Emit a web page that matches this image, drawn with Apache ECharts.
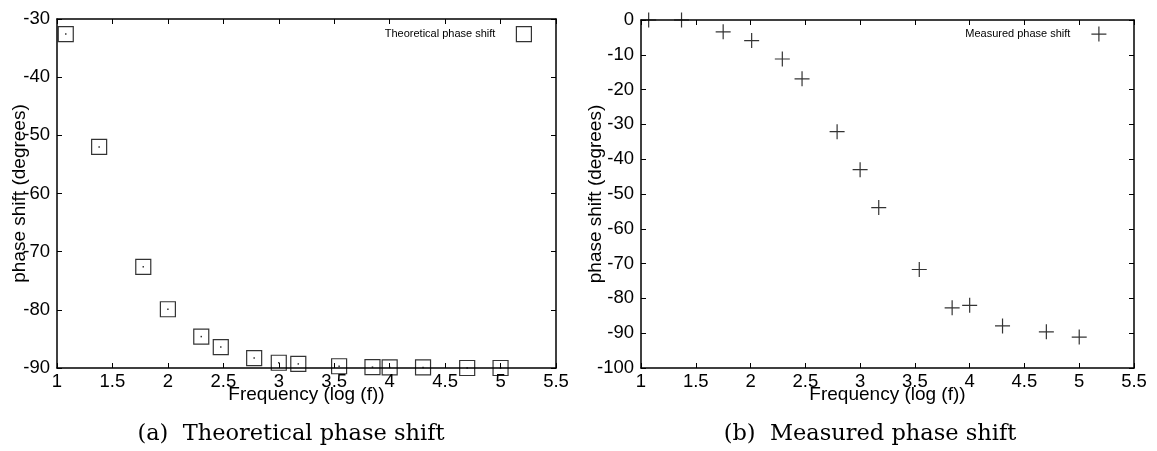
<!DOCTYPE html>
<html>
<head>
<meta charset="utf-8">
<script src="https://cdn.jsdelivr.net/npm/echarts@6/dist/echarts.min.js"></script>
<style>html,body{margin:0;padding:0;background:#fff;}#c{width:1157px;height:451px;}</style>
</head>
<body>
<div id="c"></div>
<script>
// Frequency values (log10 f), shared by both panels
const freqLogTheo = [1.079, 1.38, 1.778, 2.0, 2.301, 2.477, 2.778, 3.0, 3.176, 3.544, 3.845, 4.0, 4.301, 4.699, 5.0];
const phaseTheo   = [-32.6, -52.0, -72.6, -79.9, -84.6, -86.4, -88.3, -89.1, -89.3, -89.7, -89.85, -89.9, -89.9, -90.0, -90.0];
const freqLogMeas = [1.07, 1.37, 1.75, 2.01, 2.29, 2.47, 2.79, 3.0, 3.17, 3.54, 3.84, 4.0, 4.3, 4.7, 5.0];
const phaseMeas   = [0, 0, -3.4, -5.9, -11.2, -16.9, -32.1, -43.0, -53.9, -71.7, -82.7, -82.0, -87.9, -89.6, -91.1];
const xTicks = {min: 1, max: 5.5, interval: 0.5};
const yTicksTheo = {min: -90, max: -30, interval: 10};
const yTicksMeas = {min: -100, max: 0, interval: 10};
const seriesNames = ['Theoretical phase shift', 'Measured phase shift'];
const captions = ['(a)  Theoretical phase shift', '(b)  Measured phase shift'];
const xName = 'Frequency (log (f))';
const yName = 'phase shift (degrees)';

const pairs = (xs, ys) => xs.map((x, i) => [x, ys[i]]);
const sans = 'Liberation Sans';
const lineStyle = {color: '#000', width: 1.5};

function mainX(gi) {
  return {
    type: 'value', gridIndex: gi, min: xTicks.min, max: xTicks.max, interval: xTicks.interval,
    name: xName, nameLocation: 'middle', nameGap: 17, nameMoveOverlap: false,
    nameTextStyle: {fontFamily: sans, fontSize: 19, color: '#000'},
    axisLine: {show: true, onZero: false, lineStyle},
    axisTick: {show: true, inside: true, length: 5, lineStyle: {color: '#000', width: 1}},
    axisLabel: {fontFamily: sans, fontSize: 18.5, color: '#000', margin: 4},
    splitLine: {show: false}
  };
}
function mirrorX(gi) {
  return {
    type: 'value', gridIndex: gi, position: 'top', min: xTicks.min, max: xTicks.max, interval: xTicks.interval,
    axisLine: {show: true, onZero: false, lineStyle},
    axisTick: {show: true, inside: true, length: 5, lineStyle: {color: '#000', width: 1}},
    axisLabel: {show: false}, splitLine: {show: false}
  };
}
function mainY(gi, t, gap) {
  return {
    type: 'value', gridIndex: gi, min: t.min, max: t.max, interval: t.interval,
    name: yName, nameLocation: 'middle', nameGap: gap, nameRotate: 90, nameMoveOverlap: false,
    nameTextStyle: {fontFamily: sans, fontSize: 19, color: '#000'},
    axisLine: {show: true, onZero: false, lineStyle},
    axisTick: {show: true, inside: true, length: 5, lineStyle: {color: '#000', width: 1}},
    axisLabel: {fontFamily: sans, fontSize: 18.5, color: '#000', margin: 7},
    splitLine: {show: false}
  };
}
function mirrorY(gi, t) {
  return {
    type: 'value', gridIndex: gi, position: 'right', min: t.min, max: t.max, interval: t.interval,
    axisLine: {show: true, onZero: false, lineStyle},
    axisTick: {show: true, inside: true, length: 5, lineStyle: {color: '#000', width: 1}},
    axisLabel: {show: false}, splitLine: {show: false}
  };
}

const chart = echarts.init(document.getElementById('c'), null, {renderer: 'canvas'});
chart.setOption({
  animation: false,
  backgroundColor: '#fff',
  grid: [
    {left: 57, top: 19, width: 499, height: 349},
    {left: 641, top: 20, width: 493, height: 348}
  ],
  xAxis: [mainX(0), mirrorX(0), mainX(1), mirrorX(1)],
  yAxis: [mainY(0, yTicksTheo, 28), mirrorY(0, yTicksTheo), mainY(1, yTicksMeas, 36), mirrorY(1, yTicksMeas)],
  legend: [
    {data: [seriesNames[0]], right: 620, top: 21, orient: 'vertical', align: 'right',
     itemWidth: 15, itemHeight: 15, itemStyle: {borderWidth: 1.2},
     textStyle: {fontFamily: sans, fontSize: 11, color: '#000', padding: [0, 16, 0, 0]}},
    {data: [seriesNames[1]], right: 45, top: 21, orient: 'vertical', align: 'right',
     itemWidth: 15, itemHeight: 15, itemStyle: {borderWidth: 1.2},
     textStyle: {fontFamily: sans, fontSize: 11, color: '#000', padding: [0, 16, 0, 0]}}
  ],
  title: [
    {text: captions[0], left: 286, top: 418, textAlign: 'center',
     textStyle: {fontFamily: 'DejaVu Serif', fontSize: 22.5, fontWeight: 'normal', color: '#000'}},
    {text: captions[1], left: 865, top: 418, textAlign: 'center',
     textStyle: {fontFamily: 'DejaVu Serif', fontSize: 22.5, fontWeight: 'normal', color: '#000'}}
  ],
  series: [
    {name: seriesNames[0], type: 'scatter', xAxisIndex: 0, yAxisIndex: 0, clip: false,
     symbol: 'rect', symbolSize: 15, data: pairs(freqLogTheo, phaseTheo),
     itemStyle: {color: 'rgba(0,0,0,0)', borderColor: '#000', borderWidth: 1.2}},
    {name: 'dots', type: 'scatter', xAxisIndex: 0, yAxisIndex: 0, clip: false, silent: true,
     symbol: 'rect', symbolSize: 1.5, data: pairs(freqLogTheo, phaseTheo),
     itemStyle: {color: '#000'}},
    {name: seriesNames[1], type: 'scatter', xAxisIndex: 2, yAxisIndex: 2, clip: false,
     symbol: 'path://M0,7H14M7,0V14', symbolSize: 15, data: pairs(freqLogMeas, phaseMeas),
     itemStyle: {color: 'rgba(0,0,0,0)', borderColor: '#000', borderWidth: 1.2}}
  ]
});
</script>
</body>
</html>
